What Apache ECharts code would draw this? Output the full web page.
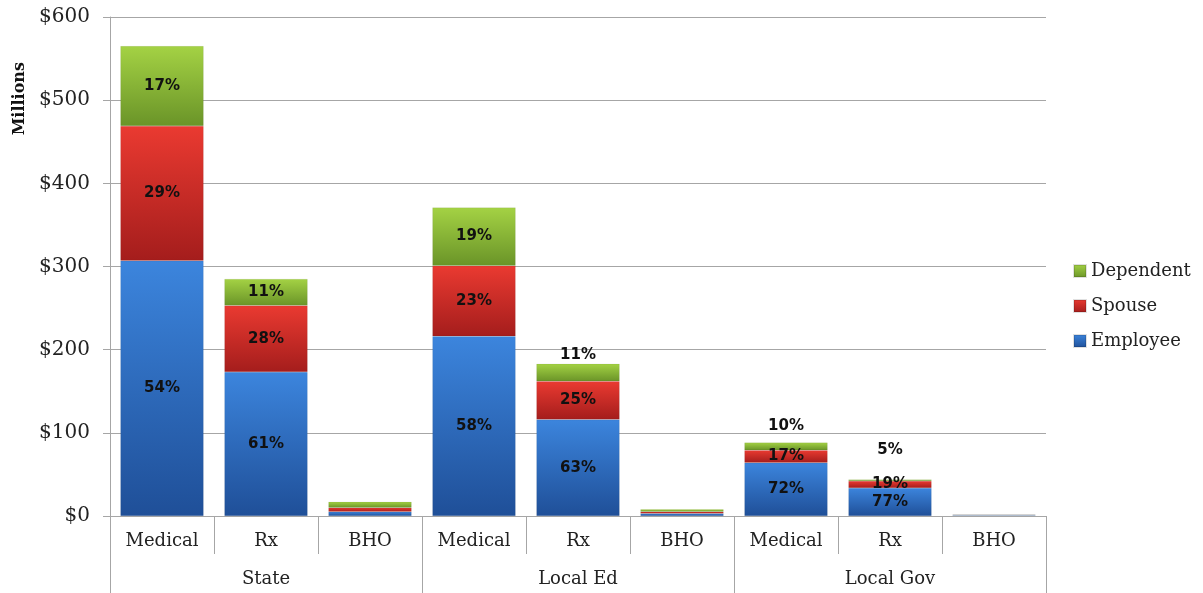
<!DOCTYPE html>
<html>
<head>
<meta charset="utf-8">
<script src="https://cdn.jsdelivr.net/npm/echarts@6/dist/echarts.min.js"></script>
<style>
  html, body { margin: 0; padding: 0; background: #fff; }
  #chart { width: 1203px; height: 593px; }
</style>
</head>
<body>
<div id="chart"></div>
<script>
// plan types, repeated for each group
var categories = ['Medical', 'Rx', 'BHO', 'Medical', 'Rx', 'BHO', 'Medical', 'Rx', 'BHO']
var groups = ['State', 'Local Ed', 'Local Gov']
var yTicks = [0, 100, 200, 300, 400, 500, 600]

// $ millions
var employee = [307, 173, 5, 216, 116, 3, 64, 33.8, 1]
var spouse = [162, 80, 5, 85, 46, 2, 15.2, 8.2, 0.5]
var dependent = [96, 32, 7, 70, 21, 3, 9.1, 2.0, 0.5]

var totals = categories.map(function (c, i) {
  return employee[i] + spouse[i] + dependent[i]
})

// dependent labels that sit above the bar (excel moved them by hand)
var depLabelGap = { 4: 1, 6: 9, 7: 22 }

var grad = function (top, bottom) {
  return {
    type: 'linear', x: 0, y: 0, x2: 0, y2: 1,
    colorStops: [{ offset: 0, color: top }, { offset: 1, color: bottom }]
  }
}

var labelStyle = {
  show: true,
  color: '#111',
  fontFamily: 'DejaVu Sans',
  fontWeight: 'bold',
  fontSize: 15,
  formatter: function (p) {
    if (categories[p.dataIndex] === 'BHO') return ''
    return Math.round(p.value / totals[p.dataIndex] * 100) + '%'
  }
}

var makeSeries = function (name, values, top, bottom) {
  return {
    name: name,
    type: 'bar',
    stack: 'total',
    barCategoryGap: '20%',
    data: values.map(function (v, i) {
      var item = { value: v }
      if (name === 'Dependent' && depLabelGap[i] !== undefined) {
        item.label = { position: 'top', distance: depLabelGap[i] }
      }
      return item
    }),
    itemStyle: {
      color: grad(top, bottom),
      borderColor: 'rgba(0,0,0,0.12)',
      borderWidth: 0.5
    },
    label: Object.assign({ position: 'inside' }, labelStyle)
  }
}

var chart = echarts.init(document.getElementById('chart'))
chart.setOption({
  backgroundColor: '#fff',
  animation: false,
  grid: { left: 110, right: 157, top: 17, bottom: 77 },
  legend: {
    orient: 'vertical',
    left: 1068,
    top: 257,
    icon: 'rect',
    itemWidth: 12,
    itemHeight: 12,
    itemGap: 17,
    data: ['Dependent', 'Spouse', 'Employee'],
    textStyle: { fontFamily: 'DejaVu Serif', fontSize: 18, color: '#222' }
  },
  graphic: [{
    type: 'text',
    left: 12,
    top: 62,
    rotation: Math.PI / 2,
    style: { text: 'Millions', font: 'bold 16px "DejaVu Serif"', fill: '#111' }
  }],
  xAxis: [
    {
      type: 'category',
      data: categories,
      axisLine: { lineStyle: { color: '#a6a6a6' } },
      axisTick: { show: true, length: 38, interval: 0, lineStyle: { color: '#a6a6a6' } },
      axisLabel: {
        interval: 0,
        margin: 16,
        fontFamily: 'DejaVu Serif',
        fontSize: 18,
        color: '#222'
      }
    },
    {
      type: 'category',
      position: 'bottom',
      data: groups,
      axisLine: { show: false },
      axisTick: { show: true, length: 77, interval: 0, lineStyle: { color: '#a6a6a6' } },
      axisLabel: {
        interval: 0,
        margin: 54,
        fontFamily: 'DejaVu Serif',
        fontSize: 18,
        color: '#222'
      }
    }
  ],
  yAxis: {
    type: 'value',
    min: yTicks[0],
    max: yTicks[yTicks.length - 1],
    interval: 100,
    axisLine: { show: true, lineStyle: { color: '#a6a6a6' } },
    axisTick: { show: true, length: 7, lineStyle: { color: '#a6a6a6' } },
    splitLine: { lineStyle: { color: '#a6a6a6' } },
    axisLabel: {
      margin: 20,
      fontFamily: 'DejaVu Serif',
      fontSize: 20,
      color: '#222',
      formatter: function (v) { return '$' + v }
    }
  },
  series: [
    makeSeries('Employee', employee, '#3c85dd', '#1f4f98'),
    makeSeries('Spouse', spouse, '#ea3a31', '#a41d1c'),
    makeSeries('Dependent', dependent, '#a4d244', '#6a9428')
  ]
})
</script>
</body>
</html>
